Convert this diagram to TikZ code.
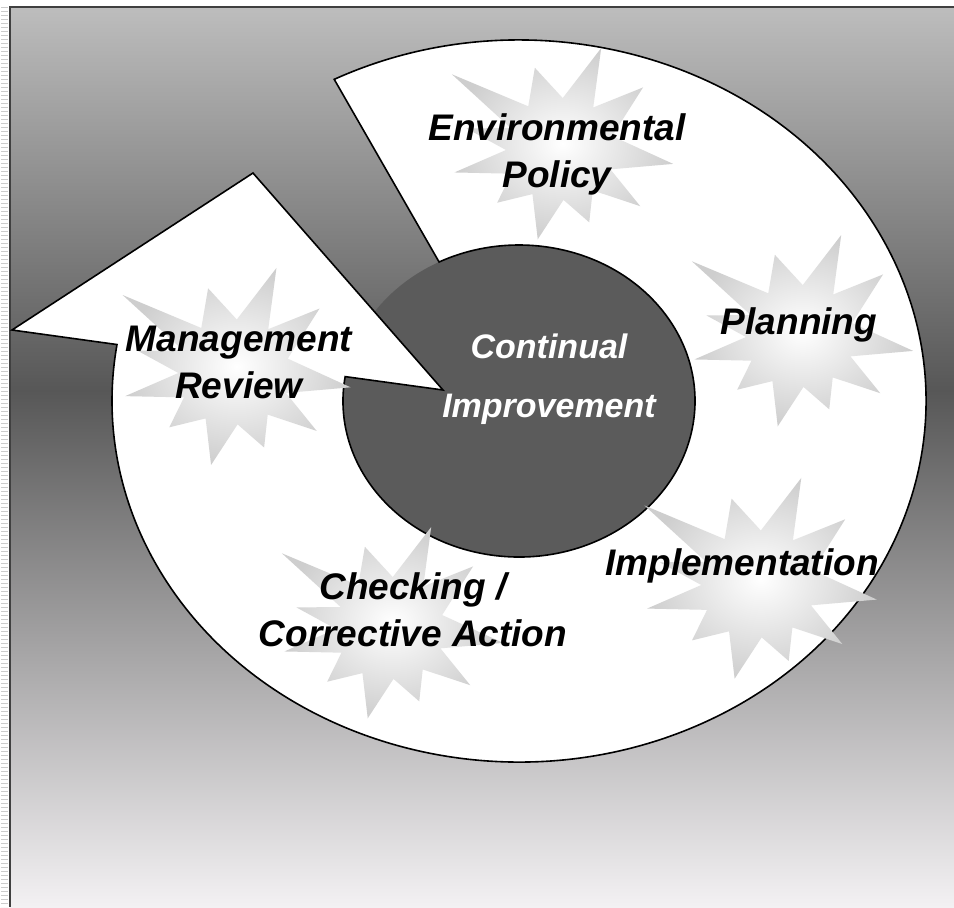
\documentclass[tikz,border=0pt]{standalone}
\usepackage{fontspec}
\setmainfont{Liberation Sans}
\usetikzlibrary{calc}
\definecolor{bgtop}{HTML}{BDBDBD}
\definecolor{bgmid}{HTML}{575757}
\definecolor{bgbot}{HTML}{F3F1F3}
\definecolor{hubgray}{HTML}{5B5B5B}
\definecolor{burstgray}{HTML}{CECECE}
\tikzset{
  ring/.style={fill=white, draw=black, line width=0.8pt, line join=miter},
  lbl/.style={font=\fontsize{18.5}{23.5}\selectfont\bfseries\itshape, align=center, inner sep=0pt},
  hublbl/.style={font=\fontsize{17}{29.5}\selectfont\bfseries\itshape, align=center, text=white, inner sep=0pt},
  burst/.pic={
    \shade[inner color=white, outer color=burstgray] (167:96)
      \foreach \a/\r in {156/54, 145/132, 126/54, 107/86, 87/52, 68/110, 52/54,
                         37/104, 15/54, -7/114, -21/54, -35/98, -51/52, -68/78,
                         -86/50, -104/92, -122/52, -140/82, -154/54, -168/108, -180/54}
      { -- (\a:\r) } -- cycle;
  }
}
\begin{document}
\begin{tikzpicture}[x=0.5pt, y=0.5pt]
\useasboundingbox (0,0) rectangle (954,-907);
% Fondo
\fill[white] (0,0) rectangle (954,-907);
\shade[top color=bgtop, bottom color=bgmid] (10,-7) rectangle (954,-391);
\shade[top color=bgmid, bottom color=bgbot] (10,-390) rectangle (954,-907);
\draw[gray!40, line width=3.5pt, dash pattern=on 0.6pt off 1.4pt] (4.5,-7) -- (4.5,-907);
\draw[black!75, line width=0.8pt] (10,-907) -- (10,-7) -- (954,-7);
% Centro
\coordinate (c) at (519,-401);
\fill[hubgray] (c) ellipse [x radius=176, y radius=156];
% Anillo con flecha
\coordinate (tip) at (253,-173);
\coordinate (barbout) at (12,-330);
\coordinate (barbin) at (443,-390);
\path[ring] ($(c)+(117:407 and 361)$)
  arc[start angle=117, end angle=-189, x radius=407, y radius=361]
  -- (barbout) -- (tip) -- (barbin)
  -- ($(c)+(-189:176 and 156)$)
  arc[start angle=-189, end angle=117, x radius=176, y radius=156] -- cycle;
% Estrellas
\pic (epstar) at (560,-150) {burst};
\pic (planstar) at (800,-337) {burst};
\pic[scale=1.05] (implstar) at (758,-585) {burst};
\pic (chkstar) at (390,-629) {burst};
\pic[scale=1.03] (mgmtstar) at (234,-373) {burst};
% Textos
\node[lbl] (ep) at (557,-154) {Environmental\\Policy};
\node[lbl] (plan) at (799,-325) {Planning};
\node[lbl] (impl) at (742,-566) {Implementation};
\node[lbl] (chk) at (413,-610) {Checking /\\Corrective Action};
\node[lbl] (mgmt) at (239,-362) {Management\\Review};
\node[hublbl] (ci) at (549,-379) {Continual\\Improvement};
\end{tikzpicture}
\end{document}
